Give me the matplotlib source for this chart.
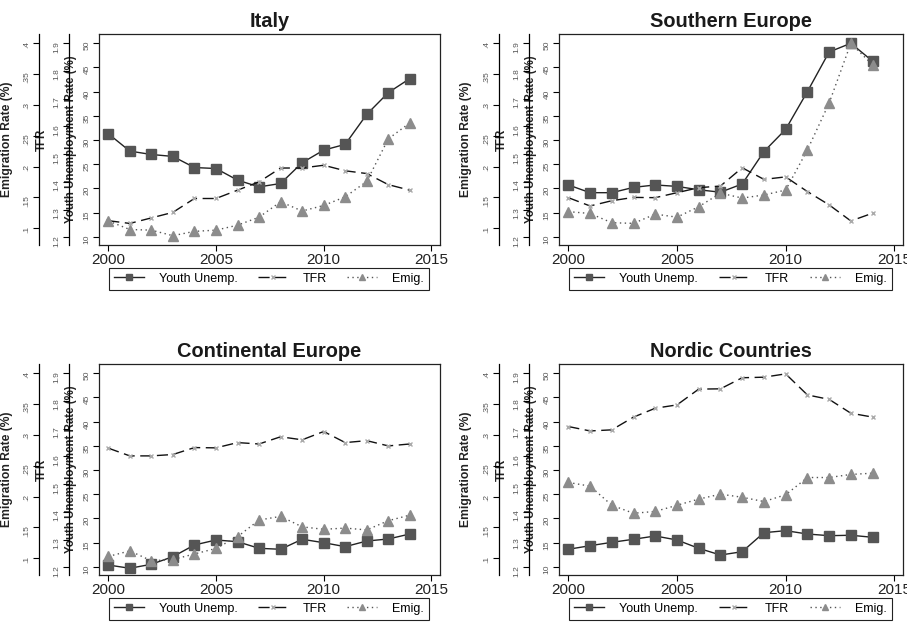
import numpy as np
import matplotlib
matplotlib.use("Agg")
import matplotlib.pyplot as plt

plt.rcParams['font.family'] = ['Liberation Sans', 'DejaVu Sans']

years = np.arange(2000, 2015)

regions = ["Italy", "Southern Europe", "Continental Europe", "Nordic Countries"]

italy_youth = [31.3, 27.7, 27.0, 26.6, 24.3, 24.1, 21.7, 20.3, 21.0, 25.3, 27.9, 29.1, 35.3, 39.8, 42.7]
italy_tfr = [1.26, 1.25, 1.27, 1.29, 1.34, 1.34, 1.37, 1.40, 1.45, 1.45, 1.46, 1.44, 1.43, 1.39, 1.37]
italy_emig = [0.112, 0.098, 0.097, 0.088, 0.095, 0.097, 0.105, 0.118, 0.143, 0.128, 0.137, 0.151, 0.176, 0.245, 0.271]

south_youth = [20.7, 19.1, 19.1, 20.2, 20.7, 20.4, 19.7, 19.2, 20.9, 27.6, 32.2, 40.0, 48.2, 50.0, 46.3]
south_tfr = [1.343, 1.313, 1.332, 1.344, 1.343, 1.361, 1.379, 1.385, 1.451, 1.409, 1.418, 1.365, 1.317, 1.259, 1.287]
south_emig = [0.127, 0.124, 0.109, 0.108, 0.123, 0.118, 0.135, 0.157, 0.149, 0.154, 0.162, 0.227, 0.303, 0.400, 0.365]

cont_youth = [10.35, 9.67, 10.5, 12.07, 14.49, 15.52, 15.17, 13.8, 13.6, 15.67, 14.96, 14.14, 15.31, 15.73, 16.76]
cont_tfr = [1.630, 1.602, 1.602, 1.607, 1.632, 1.631, 1.650, 1.645, 1.671, 1.660, 1.690, 1.650, 1.657, 1.638, 1.645]
cont_emig = [0.103, 0.112, 0.096, 0.098, 0.107, 0.116, 0.135, 0.162, 0.168, 0.151, 0.147, 0.149, 0.146, 0.161, 0.170]

nordic_youth = [13.6, 14.34, 15.04, 15.67, 16.35, 15.52, 13.8, 12.41, 13.1, 17.03, 17.45, 16.76, 16.41, 16.5, 16.08]
nordic_tfr = [1.708, 1.692, 1.696, 1.742, 1.774, 1.786, 1.843, 1.844, 1.884, 1.886, 1.898, 1.822, 1.806, 1.756, 1.742]
nordic_emig = [0.223, 0.217, 0.186, 0.173, 0.176, 0.186, 0.196, 0.204, 0.199, 0.192, 0.203, 0.231, 0.231, 0.236, 0.238]

youth_ticks = [10, 15, 20, 25, 30, 35, 40, 45, 50]
tfr_ticks = [1.2, 1.3, 1.4, 1.5, 1.6, 1.7, 1.8, 1.9]
tfr_labels = ["1.2", "1.3", "1.4", "1.5", "1.6", "1.7", "1.8", "1.9"]
emig_ticks = [0.1, 0.15, 0.2, 0.25, 0.3, 0.35, 0.4]
emig_labels = [".1", ".15", ".2", ".25", ".3", ".35", ".4"]

data = {
    "Italy": (italy_youth, italy_tfr, italy_emig),
    "Southern Europe": (south_youth, south_tfr, south_emig),
    "Continental Europe": (cont_youth, cont_tfr, cont_emig),
    "Nordic Countries": (nordic_youth, nordic_tfr, nordic_emig),
}

W, H = 907, 633
fig = plt.figure(figsize=(W / 100, H / 100), dpi=100)

# panel boxes in pixels: (left, top, width, height)
boxes = [(99, 34, 341, 211), (559, 34, 344, 211),
         (99, 364, 341, 211), (559, 364, 344, 211)]

tick_col = "#555555"
px = 72 / 100.0


def style_yaxis(a, ticks, labels, offset):
    for s in ["top", "right", "bottom"]:
        a.spines[s].set_visible(False)
    a.spines["left"].set_visible(True)
    a.spines["left"].set_position(("outward", offset * px))
    a.spines["left"].set_linewidth(0.9)
    a.yaxis.set_ticks_position("left")
    a.yaxis.set_label_position("left")
    a.set_yticks(ticks, labels)
    a.tick_params(axis="y", direction="out", length=4, width=0.8,
                  labelsize=6, labelcolor=tick_col, labelrotation=90, pad=2)
    a.patch.set_visible(False)


for name, (l, t, w, h) in zip(regions, boxes):
    youth, tfr, emig = data[name]
    ax = fig.add_axes([l / W, 1 - (t + h) / H, w / W, h / H])
    ax.plot(years, youth, color="#222222", lw=1.0, marker="s", ms=6.5,
            mfc="#555555", mec="#555555", label="Youth Unemp.")
    ax.set_xlim(1999.57, 2015.4)
    ax.set_ylim(8.28, 51.92)
    ax.set_yticks(youth_ticks, [str(v) for v in youth_ticks])
    ax.tick_params(axis="y", direction="out", length=4, width=0.8,
                   labelsize=6, labelcolor=tick_col, labelrotation=90, pad=2)
    ax.set_xticks([2000, 2005, 2010, 2015])
    ax.tick_params(axis="x", direction="out", length=4, width=0.8,
                   labelsize=11, labelcolor="#222222", pad=2)
    for s in ax.spines.values():
        s.set_linewidth(0.9)
        s.set_color("#222222")
    ax.set_ylabel("Youth Unemployment Rate (%)", fontsize=8.3,
                  fontweight="bold", color="#222222")
    ax.yaxis.set_label_coords(-0.064, 0.5)
    ax.set_title(name, fontsize=14.4, fontweight="bold", color="#1a1a1a", pad=5)

    ax2 = ax.twinx()
    ax2.plot(years, tfr, color="#111111", lw=1.0, ls=(0, (8, 4)), marker="x",
             ms=3.5, mew=1.0, mec="#aaaaaa", label="TFR")
    ax2.set_ylim(1.1722, 1.9336)
    style_yaxis(ax2, tfr_ticks, tfr_labels, 30)
    ax2.set_ylabel("TFR", fontsize=8.3, fontweight="bold", color="#222222")
    ax2.yaxis.set_label_coords(-0.150, 0.5)

    ax3 = ax.twinx()
    ax3.plot(years, emig, color="#555555", lw=1.0, ls=(0, (1, 2.5)), marker="^",
             ms=7, mfc="#8c8c8c", mec="#8c8c8c", label="Emig.")
    ax3.set_ylim(0.0729, 0.4151)
    style_yaxis(ax3, emig_ticks, emig_labels, 60)
    ax3.set_ylabel("Emigration Rate (%)", fontsize=8.7, fontweight="bold",
                   color="#222222")
    ax3.yaxis.set_label_coords(-0.252, 0.5)

    handles = [ax.get_lines()[0], ax2.get_lines()[0], ax3.get_lines()[0]]
    leg = ax.legend(handles=handles, loc="center", ncol=3, mode="expand",
                    bbox_to_anchor=(0.012, -0.21, 0.973, 0.1), fontsize=9,
                    frameon=True, fancybox=False, edgecolor="#222222",
                    framealpha=1, handlelength=2.4, markerscale=0.7,
                    borderpad=0.4, handletextpad=1.2, columnspacing=1.0)
    leg.get_frame().set_linewidth(0.8)

fig.savefig("out.png", dpi=100)
